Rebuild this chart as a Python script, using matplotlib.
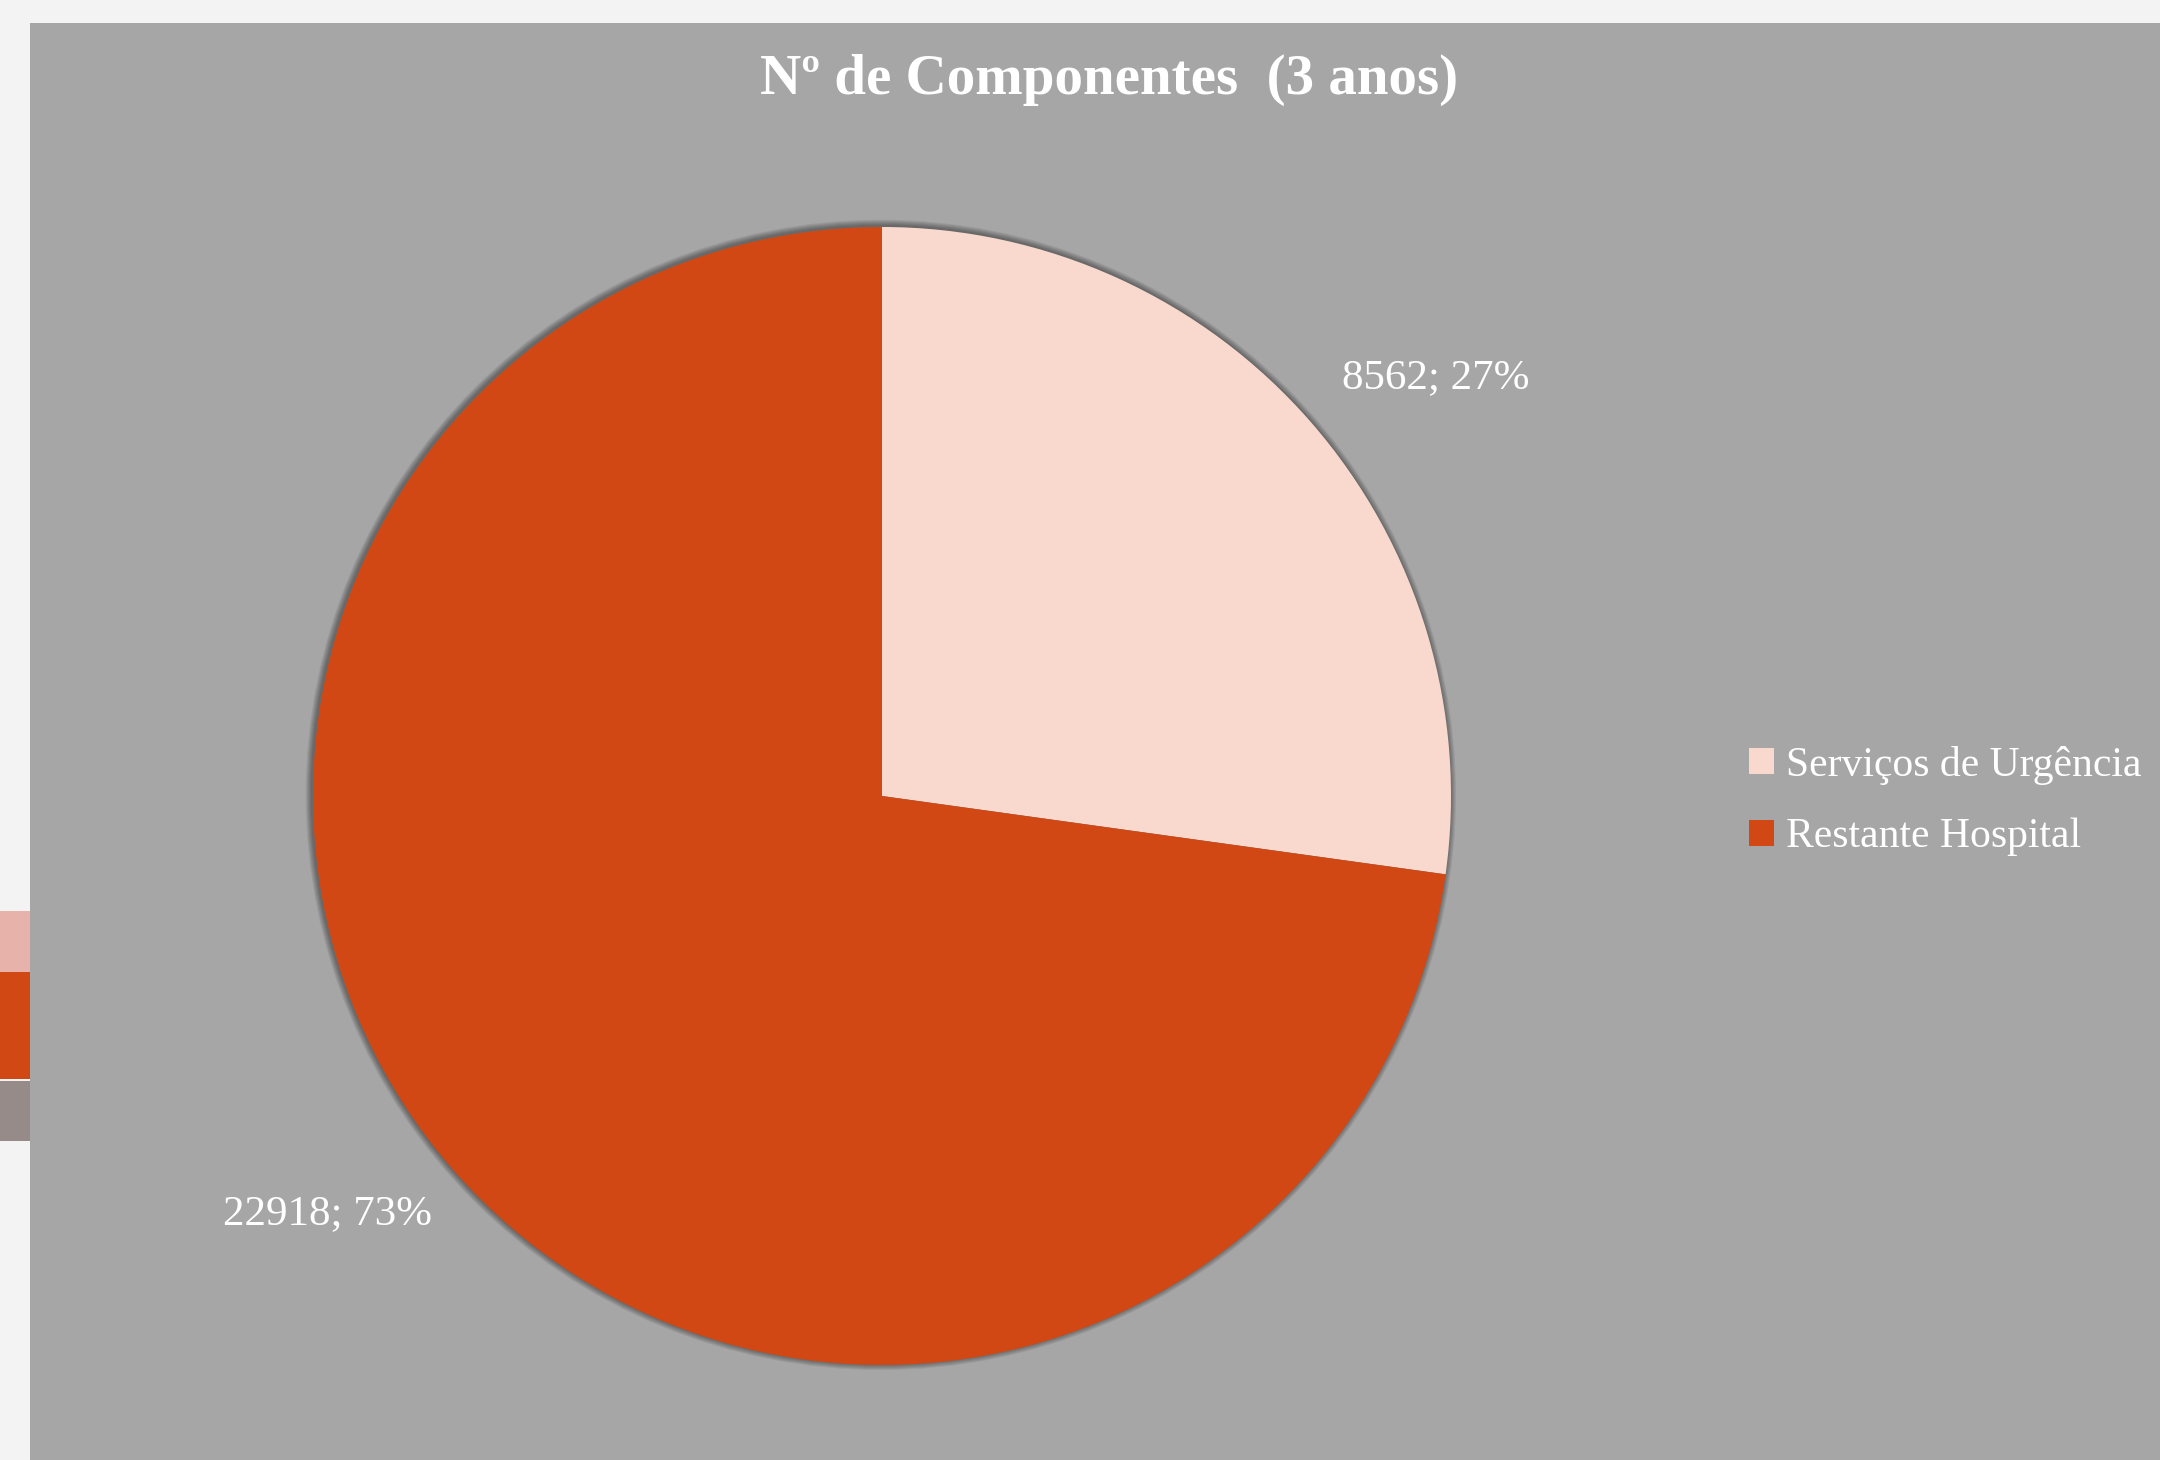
import numpy as np
import matplotlib
matplotlib.use("Agg")
import matplotlib.pyplot as plt
from matplotlib.patches import Rectangle, Circle

# dados
categorias = ["Serviços de Urgência", "Restante Hospital"]
valores = [8562, 22918]
cores = ["#F9D9CD", "#D24815"]
titulo = "Nº de Componentes  (3 anos)"

plt.rcParams['font.family'] = ['Liberation Serif', 'DejaVu Serif']

W, H = 2160, 1460
fig = plt.figure(figsize=(W / 100, H / 100), dpi=100)
fig.patch.set_facecolor("#F3F3F3")

# painel cinzento e faixa lateral
fig.patches.append(Rectangle((30 / W, 0), 1 - 30 / W, 1 - 23 / H, transform=fig.transFigure,
                             facecolor="#A6A6A6", edgecolor="none", zorder=-2))
faixa = [(911, 972, "#E6B2AA"), (972, 1079, "#D24815"), (1081, 1141, "#978B8A")]
for y0, y1, c in faixa:
    fig.patches.append(Rectangle((0, 1 - y1 / H), 30 / W, (y1 - y0) / H, transform=fig.transFigure,
                                 facecolor=c, edgecolor="none", zorder=-2))

# eixo da tarte
cx, cy, r = 882, 796, 569
ax = fig.add_axes([(cx - r) / W, (H - cy - r) / H, 2 * r / W, 2 * r / H])

# sombra suave
for k in range(6):
    ax.add_patch(Circle((-0.002, 0.002), 1.0 + 0.0018 * (k + 1), facecolor="black",
                        edgecolor="none", alpha=0.07, zorder=0, clip_on=False))

wedges, _ = ax.pie(valores, colors=cores, startangle=90, counterclock=False,
                   radius=1.0, wedgeprops=dict(linewidth=0))
for w in wedges:
    w.set_zorder(2)
    w.set_clip_on(False)
ax.set_xlim(-1, 1)
ax.set_ylim(-1, 1)
ax.set_aspect("equal")
ax.axis("off")

total = sum(valores)
for w, v in zip(wedges, valores):
    ang = np.deg2rad((w.theta1 + w.theta2) / 2 - 4)
    d = 1.22
    ax.text(d * np.cos(ang), d * np.sin(ang), f"{v}; {v / total:.0%}",
            ha="center", va="center", color="white", fontsize=31, clip_on=False)

fig.text(1109 / W, 1 - 80 / H, titulo, ha="center", va="center", color="white",
         fontsize=41, fontweight="bold")

fig.legend(wedges, categorias, loc="center left", bbox_to_anchor=(1711 / W, 1 - 801 / H),
           frameon=False, fontsize=30, labelcolor="white", handlelength=0.6,
           handleheight=0.6, handletextpad=0.3, labelspacing=0.8)

fig.savefig("out.png", dpi=100, facecolor=fig.get_facecolor())
